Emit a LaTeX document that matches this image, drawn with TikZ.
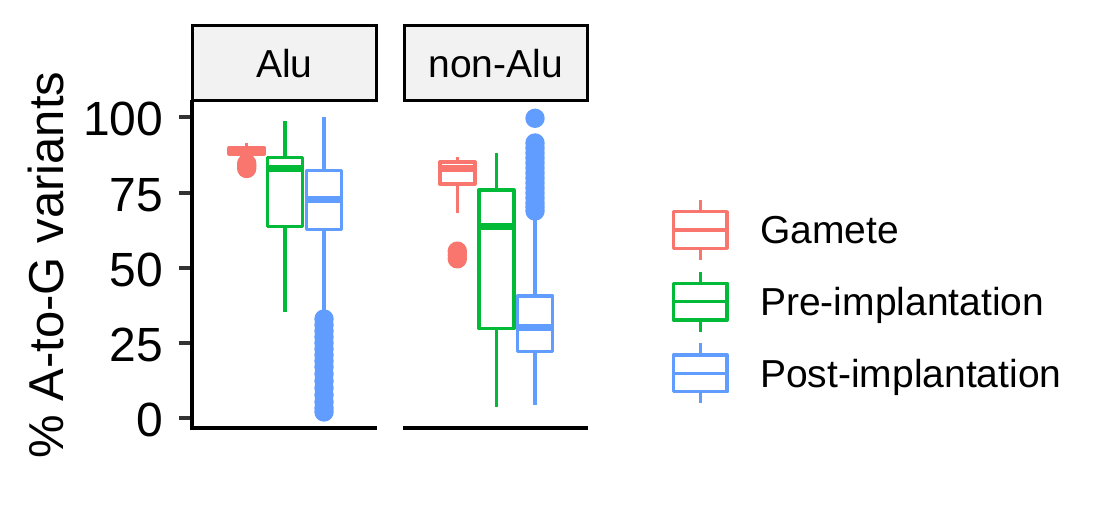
\documentclass[tikz,border=0pt]{standalone}
\usepackage{fontspec}
\setmainfont{Liberation Sans}
\definecolor{cG}{HTML}{F8766D}
\definecolor{cP}{HTML}{00BA38}
\definecolor{cQ}{HTML}{619CFF}
\definecolor{tickgray}{HTML}{333333}
\definecolor{stripfill}{HTML}{F2F2F2}
\tikzset{
  bxline/.style={draw=#1, line width=3.5pt, line join=round},
  medline/.style={draw=#1, line width=7pt},
  lgline/.style={draw=#1, line width=3.5pt, line join=round},
  outl/.style={fill=#1, draw=none},
  axln/.style={draw=black, line width=4pt},
  tickln/.style={draw=tickgray, line width=4pt},
  stripbox/.style={draw=black, fill=stripfill, line width=3pt},
  ticklab/.style={anchor=base east, inner sep=0pt, font=\fontsize{48}{56}\selectfont},
  striplab/.style={anchor=base, inner sep=0pt, font=\fontsize{39}{46}\selectfont},
  leglab/.style={anchor=base west, inner sep=0pt, font=\fontsize{39}{46}\selectfont},
  axtitle/.style={anchor=base, rotate=90, inner sep=0pt, font=\fontsize{49}{58}\selectfont}
}
% #1 x, #2 colour, #3 lower whisker, #4 Q1, #5 median, #6 Q3, #7 upper whisker (pixel y)
\newcommand{\bplot}[7]{%
  \draw[bxline=#2] (#1,#3) -- (#1,#4);
  \draw[bxline=#2] (#1,#6) -- (#1,#7);
  \draw[bxline=#2, fill=white] (#1-17.5,#4) rectangle (#1+17.5,#6);
  \draw[medline=#2] (#1-17.5,#5) -- (#1+17.5,#5);
}
% #1 x, #2 colour, #3 list of y
\newcommand{\outs}[3]{%
  \foreach \yy in {#3} {\fill[outl=#2] (#1,\yy) circle (9.7);}
}
% #1 y centre, #2 colour
\newcommand{\lkey}[2]{%
  \draw[lgline=#2] (700.3,#1-30) -- (700.3,#1+30);
  \draw[lgline=#2, fill=white] (673.5,#1-18.3) rectangle (727.2,#1+18.3);
  \draw[lgline=#2] (673.5,#1) -- (727.2,#1);
}
\begin{document}
\begin{tikzpicture}[x=1pt,y=-1pt]
\useasboundingbox (0,0) rectangle (1116,526);
\fill[white] (0,0) rectangle (1116,526);

% strips
\draw[stripbox] (192.5,25.8) rectangle (376,100.2);
\node[striplab] (sAlu) at (284.5,77.5) {Alu};
\draw[stripbox] (404.2,25.8) rectangle (587.5,100.2);
\node[striplab] (sNon) at (495.8,77.5) {non-Alu};

% Alu panel
\outs{246.7}{cG}{163.5,166,168.5}
\bplot{246.7}{cG}{157}{154}{150.5}{148}{143.5}
\bplot{285}{cP}{311.7}{226.7}{168.3}{157.3}{120.7}
\outs{324}{cQ}{319,325,331,337,343,349,355,361,367,374,381,388,395,402,408,412}
\bplot{324}{cQ}{312}{229.3}{200}{170.7}{117.3}

% non-Alu panel
\outs{457.3}{cG}{251.2,255,258.8}
\bplot{457.3}{cG}{213.3}{184}{168.5}{162}{156.7}
\bplot{496.3}{cP}{406.7}{328.5}{226.7}{190}{153.3}
\outs{535}{cQ}{118.3,143,148,153,158,163,168,173,178,183,188,193,198,203,207,211}
\bplot{535}{cQ}{405}{351.5}{327.7}{296}{214}

% axes
\draw[axln] (192,100.5) -- (192,429.5);
\draw[axln] (190,427.5) -- (377,427.5);
\draw[axln] (403,427.5) -- (588,427.5);
\foreach \v/\yy in {100/117.3,75/192.6,50/267.9,25/343.1,0/418.4} {
  \draw[tickln] (179.3,\yy) -- (190,\yy);
  \node[ticklab] (t\v) at (163.5,\yy+18.5) {\v};
}
\node[axtitle] (ytitle) at (63,265) {\% A-to-G variants};

% legend
\lkey{230}{cG}
\node[leglab] (lG) at (760,244) {Gamete};
\lkey{301.7}{cP}
\node[leglab] (lP) at (760,315.7) {Pre-implantation};
\lkey{373.4}{cQ}
\node[leglab] (lQ) at (760,387.4) {Post-implantation};
\end{tikzpicture}
\end{document}
